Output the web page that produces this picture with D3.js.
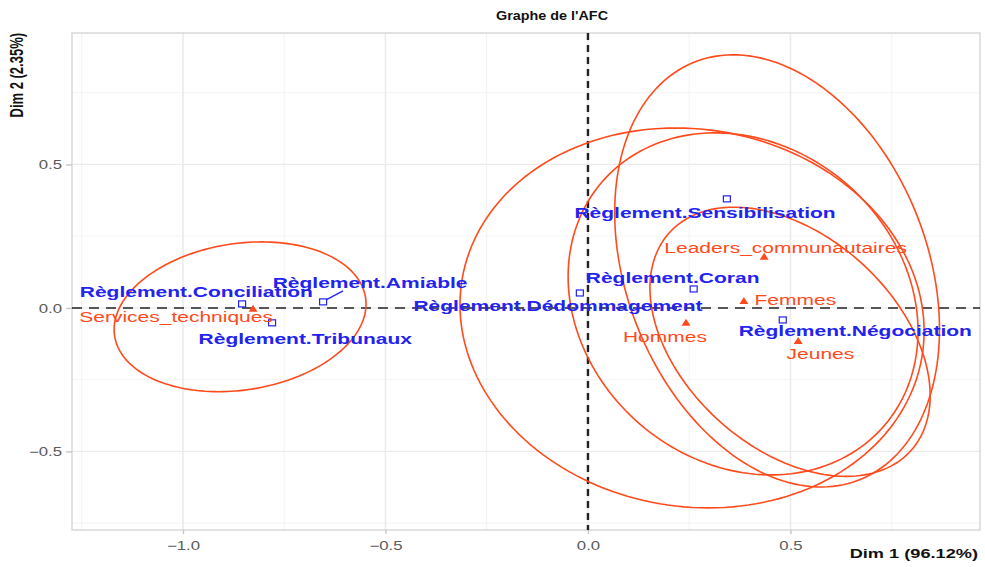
<!DOCTYPE html>
<html>
<head>
<meta charset="utf-8">
<script src="https://cdn.jsdelivr.net/npm/d3@7"></script>
<style>
  body { margin: 0; background: #fff; }
  text { font-family: "Liberation Sans", Arial, sans-serif; }
</style>
</head>
<body>
<div id="chart"></div>
<script>
// modalités colonnes (règlements)
var colNames = ["Règlement.Conciliation", "Règlement.Amiable", "Règlement.Tribunaux",
  "Règlement.Dédommagement", "Règlement.Sensibilisation", "Règlement.Coran", "Règlement.Négociation"];
var colDim1 = [-0.854, -0.654, -0.780, -0.020, 0.343, 0.261, 0.481];
var colDim2 = [0.014, 0.021, -0.052, 0.052, 0.380, 0.066, -0.042];
// label positions (after repel)
var colLabDim1 = [-0.967, -0.538, -0.698, -0.074, 0.289, 0.209, 0.660];
var colLabDim2 = [0.058, 0.087, -0.105, 0.007, 0.334, 0.105, -0.080];

// modalités lignes (acteurs)
var rowNames = ["Services_techniques", "Leaders_communautaires", "Femmes", "Hommes", "Jeunes"];
var rowDim1 = [-0.827, 0.435, 0.385, 0.242, 0.519];
var rowDim2 = [-0.003, 0.178, 0.024, -0.052, -0.115];
var rowLabDim1 = [-1.017, 0.488, 0.512, 0.190, 0.574];
var rowLabDim2 = [-0.031, 0.209, 0.031, -0.101, -0.160];

// ellipses de confiance des lignes : centre, demi-étendues, corrélation
var ellDim1 = [-0.859, 0.467, 0.383, 0.257, 0.499];
var ellDim2 = [-0.031, 0.129, 0.014, -0.035, -0.118];
var ellSd1 = [0.311, 0.401, 0.432, 0.573, 0.346];
var ellSd2 = [0.261, 0.753, 0.596, 0.662, 0.469];
var ellCor = [0.17, -0.27, -0.16, -0.07, -0.40];

var xMajor = [-1.0, -0.5, 0.0, 0.5];
var xMinor = [-1.25, -0.75, -0.25, 0.25, 0.75];
var yMajor = [-0.5, 0.0, 0.5];
var yMinor = [-0.75, -0.25, 0.25, 0.75];

var width = 985, height = 567;
var stretch = 1.4; // the reference is widened horizontally
var red = "#ff4a1c", blue = "#2323f0";

var svg = d3.select("#chart")
  .append("svg")
  .attr("width", width)
  .attr("height", height);

var x = d3.scaleLinear().domain([-1.274, 0.968]).range([72, 980]);
var y = d3.scaleLinear().domain([-0.774, 0.958]).range([530, 33]);

function addText(px, py, str, sx) {
  return svg.append("text")
    .attr("transform", "translate(" + px + "," + py + ") scale(" + (sx || stretch) + ",1)")
    .text(str);
}

// grid
svg.selectAll(".gx-minor").data(xMinor).enter().append("line")
  .attr("x1", function(d) { return x(d) }).attr("x2", function(d) { return x(d) })
  .attr("y1", y.range()[0]).attr("y2", y.range()[1])
  .attr("stroke", "#f4f4f4").attr("stroke-width", 1.2);
svg.selectAll(".gy-minor").data(yMinor).enter().append("line")
  .attr("y1", function(d) { return y(d) }).attr("y2", function(d) { return y(d) })
  .attr("x1", x.range()[0]).attr("x2", x.range()[1])
  .attr("stroke", "#f4f4f4").attr("stroke-width", 1);
svg.selectAll(".gx").data(xMajor).enter().append("line")
  .attr("x1", function(d) { return x(d) }).attr("x2", function(d) { return x(d) })
  .attr("y1", y.range()[0]).attr("y2", y.range()[1])
  .attr("stroke", "#ebebeb").attr("stroke-width", 1.6);
svg.selectAll(".gy").data(yMajor).enter().append("line")
  .attr("y1", function(d) { return y(d) }).attr("y2", function(d) { return y(d) })
  .attr("x1", x.range()[0]).attr("x2", x.range()[1])
  .attr("stroke", "#ebebeb").attr("stroke-width", 1.2);

// panel border
svg.append("rect")
  .attr("x", 72).attr("y", 33)
  .attr("width", 980 - 72).attr("height", 530 - 33)
  .attr("fill", "none").attr("stroke", "#d6d6d6").attr("stroke-width", 1.4);

// axes
var xAxis = d3.axisBottom(x).tickValues(xMajor).tickSize(4).tickFormat(d3.format(".1f"));
var yAxis = d3.axisLeft(y).tickValues(yMajor).tickSize(6).tickFormat(d3.format(".1f"));

var gx = svg.append("g").attr("transform", "translate(0,530)").call(xAxis);
var gy = svg.append("g").attr("transform", "translate(72,0)").call(yAxis);
[gx, gy].forEach(function(g) {
  g.select(".domain").remove();
  g.selectAll(".tick line").attr("stroke", "#c4c4c4").attr("stroke-width", 1.3);
  g.selectAll(".tick text").remove();
});
gx.selectAll(".tick").each(function(d) {
  d3.select(this).append("text")
    .attr("transform", "translate(0,20) scale(" + stretch + ",1)")
    .attr("text-anchor", "middle")
    .attr("fill", "#5a5a5a")
    .attr("font-size", "12px")
    .text(d3.format(".1f")(d));
});
gy.selectAll(".tick").each(function(d) {
  d3.select(this).append("text")
    .attr("transform", "translate(-10,4.5) scale(" + stretch + ",1)")
    .attr("text-anchor", "end")
    .attr("fill", "#5a5a5a")
    .attr("font-size", "12px")
    .text(d3.format(".1f")(d));
});

// reference lines
svg.append("line")
  .attr("x1", x.range()[0]).attr("x2", x.range()[1])
  .attr("y1", y(0)).attr("y2", y(0))
  .attr("stroke", "#222").attr("stroke-width", 1.5)
  .attr("stroke-dasharray", "10,7");
svg.append("line")
  .attr("x1", x(0)).attr("x2", x(0))
  .attr("y1", y.range()[1]).attr("y2", y.range()[0])
  .attr("stroke", "#222").attr("stroke-width", 2.4)
  .attr("stroke-dasharray", "7,5");

// ellipses
var ellData = rowNames.map(function(n, i) {
  return { name: n, cx: ellDim1[i], cy: ellDim2[i], s1: ellSd1[i], s2: ellSd2[i], r: ellCor[i] };
});
var line = d3.line().curve(d3.curveLinearClosed);
svg.selectAll(".ellipse").data(ellData).enter().append("path")
  .attr("class", "ellipse")
  .attr("d", function(d) {
    var pts = d3.range(0, 2 * Math.PI, Math.PI / 90).map(function(t) {
      var ex = d.cx + d.s1 * Math.cos(t);
      var ey = d.cy + d.s2 * (d.r * Math.cos(t) + Math.sqrt(1 - d.r * d.r) * Math.sin(t));
      return [x(ex), y(ey)];
    });
    return line(pts);
  })
  .attr("fill", "none")
  .attr("stroke", red)
  .attr("stroke-width", 1.6);

// column points
var cols = colNames.map(function(n, i) {
  return { name: n, d1: colDim1[i], d2: colDim2[i], l1: colLabDim1[i], l2: colLabDim2[i] };
});
var rows = rowNames.map(function(n, i) {
  return { name: n, d1: rowDim1[i], d2: rowDim2[i], l1: rowLabDim1[i], l2: rowLabDim2[i] };
});

// repel segment for Amiable
svg.append("line")
  .attr("x1", x(cols[1].d1) + 3).attr("y1", y(cols[1].d2) - 2)
  .attr("x2", x(cols[1].d1) + 20).attr("y2", y(cols[1].d2) - 11)
  .attr("stroke", blue).attr("stroke-width", 1.3);

svg.selectAll(".colpt").data(cols).enter().append("rect")
  .attr("x", function(d) { return x(d.d1) - 3.5 })
  .attr("y", function(d) { return y(d.d2) - 3 })
  .attr("width", 7).attr("height", 6)
  .attr("fill", "none").attr("stroke", blue).attr("stroke-width", 1.2);

svg.selectAll(".rowpt").data(rows).enter().append("path")
  .attr("d", function(d) {
    var cx = x(d.d1), cy = y(d.d2);
    return "M" + (cx - 4.5) + "," + (cy + 3) + "L" + (cx + 4.5) + "," + (cy + 3) + "L" + cx + "," + (cy - 4) + "Z";
  })
  .attr("fill", red);

// labels
cols.forEach(function(d) {
  addText(x(d.l1), y(d.l2) + 5.5, d.name)
    .attr("text-anchor", "middle")
    .attr("font-size", "15px")
    .attr("font-weight", "bold")
    .attr("fill", blue);
});
rows.forEach(function(d) {
  addText(x(d.l1), y(d.l2) + 5.5, d.name)
    .attr("text-anchor", "middle")
    .attr("font-size", "15px")
    .attr("fill", red);
});

// titles
addText(552, 20, "Graphe de l'AFC", 1.15)
  .attr("text-anchor", "middle")
  .attr("font-size", "12.5px")
  .attr("font-weight", "bold")
  .attr("fill", "#111");

addText(978, 558, "Dim 1 (96.12%)")
  .attr("text-anchor", "end")
  .attr("font-size", "13px")
  .attr("font-weight", "bold")
  .attr("fill", "#111");

svg.append("text")
  .attr("transform", "translate(23,33) scale(" + stretch + ",1) rotate(-90)")
  .attr("text-anchor", "end")
  .attr("font-size", "13px")
  .attr("font-weight", "bold")
  .attr("fill", "#111")
  .text("Dim 2 (2.35%)");
</script>
</body>
</html>
